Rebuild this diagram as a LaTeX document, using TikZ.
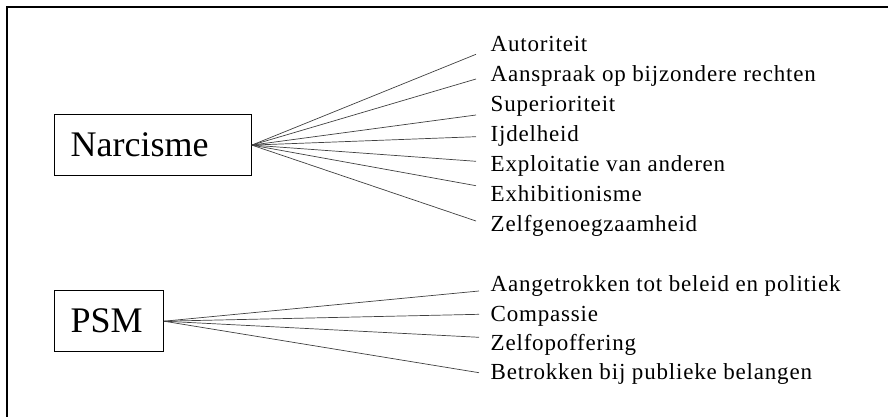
\documentclass[tikz,border=0pt]{standalone}
\usepackage{fontspec}
\setmainfont{Liberation Serif}
\newfontfamily\lblfont[LetterSpace=3.5]{Liberation Serif}
\tikzset{
  mainbox/.style={draw=black, line width=1.3pt, inner xsep=16.5pt, inner ysep=0pt, align=left,
    font=\fontsize{36}{40}\selectfont, anchor=west},
  lbl/.style={anchor=base west, inner sep=0pt, font=\lblfont\fontsize{23}{27}\selectfont},
  conn/.style={draw=black!75, line width=0.7pt},
}
\begin{document}
\begin{tikzpicture}[x=1pt, y=-1pt]
\useasboundingbox (0,0) rectangle (888,417);
\clip (0,0) rectangle (888,417);
\draw[line width=1.7pt] (6.7,7.3) rectangle (895,425);
% boxes
\node[mainbox, text width=164pt, minimum height=61.2pt] (narc) at (53.5,145.1) {Narcisme};
\node[mainbox, text width=76.2pt, minimum height=61pt] (psm) at (53.5,321.2) {PSM};
% labels
\node[lbl] (n1) at (490.5,51.7) {Autoriteit};
\node[lbl] (n2) at (490.5,81.7) {Aanspraak op bijzondere rechten};
\node[lbl] (n3) at (490.5,111.7) {Superioriteit};
\node[lbl] (n4) at (490.5,141.7) {Ijdelheid};
\node[lbl] (n5) at (490.5,171.7) {Exploitatie van anderen};
\node[lbl] (n6) at (490.5,201.7) {Exhibitionisme};
\node[lbl] (n7) at (490.5,231.7) {Zelfgenoegzaamheid};
\node[lbl] (p1) at (490.5,291.7) {Aangetrokken tot beleid en politiek};
\node[lbl] (p2) at (490.5,321.0) {Compassie};
\node[lbl] (p3) at (490.5,350.3) {Zelfopoffering};
\node[lbl] (p4) at (490.5,379.7) {Betrokken bij publieke belangen};
% line ends
\coordinate (e1) at (476,54.3);
\coordinate (e2) at (476,79);
\coordinate (e3) at (476,115);
\coordinate (e4) at (476,136.7);
\coordinate (e5) at (476,161.3);
\coordinate (e6) at (476,185.7);
\coordinate (e7) at (476,221);
\coordinate (f1) at (479,291);
\coordinate (f2) at (479,314.3);
\coordinate (f3) at (479,337.3);
\coordinate (f4) at (479,372.7);
\foreach \i in {1,...,7} \draw[conn] (narc.east) -- (e\i);
\foreach \i in {1,...,4} \draw[conn] (psm.east) -- (f\i);
\end{tikzpicture}
\end{document}
